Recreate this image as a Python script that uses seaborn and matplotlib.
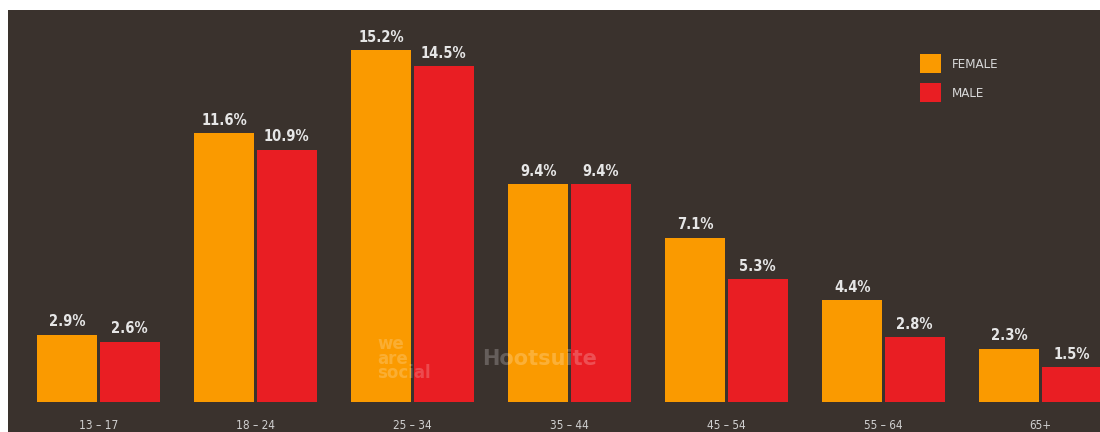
import matplotlib
matplotlib.use("Agg")
import matplotlib.pyplot as plt
from matplotlib.patches import Rectangle, Patch
from matplotlib import font_manager as fm
import seaborn as sns
import pandas as pd

age_groups = ["13 – 17", "18 – 24", "25 – 34", "35 – 44", "45 – 54", "55 – 64", "65+"]
female = [2.9, 11.6, 15.2, 9.4, 7.1, 4.4, 2.3]
male = [2.6, 10.9, 14.5, 9.4, 5.3, 2.8, 1.5]
series = ["FEMALE", "MALE"]
colors = ["#FA9A00", "#E91E23"]
bg = "#3A322D"
txt = "#E6E6E6"

df = pd.DataFrame({
    "age": age_groups * 2,
    "sex": [series[0]] * len(age_groups) + [series[1]] * len(age_groups),
    "value": female + male,
})

sns.set_theme(style="white")
plt.rcParams["font.family"] = ["DejaVu Sans"]

names = {f.name for f in fm.fontManager.ttflist}
narrow = "Liberation Sans Narrow" if "Liberation Sans Narrow" in names else "DejaVu Sans"
cond_fp = fm.FontProperties(family=narrow, weight="bold", stretch="condensed", size=10.5)
reg_fp = fm.FontProperties(family=narrow, stretch="condensed", size=8.5)

W, H = 1100, 432
fig = plt.figure(figsize=(W / 100, H / 100), dpi=100, facecolor=bg)
fig.patches.append(Rectangle((0, 1 - 10 / H), 1, 10 / H, transform=fig.transFigure,
                             facecolor="white", edgecolor="none", zorder=10))
fig.patches.append(Rectangle((0, 0), 8 / W, 1, transform=fig.transFigure,
                             facecolor="white", edgecolor="none", zorder=10))

ax = fig.add_axes([8 / W, 30 / H, 1092 / W, 392 / H])
ax.set_facecolor(bg)
ax.patch.set_alpha(0)

sns.barplot(data=df, x="age", y="value", hue="sex", hue_order=series,
            palette=colors, width=0.796, gap=0.04, saturation=1,
            edgecolor="none", ax=ax, legend=False)

ax.set_xlim(-0.576, 6.379)
ax.set_ylim(0, 16.93)
for s in ax.spines.values():
    s.set_visible(False)
ax.set_yticks([])
ax.set_xlabel("")
ax.set_ylabel("")
ax.tick_params(axis="x", length=0, pad=12.5, labelcolor="#D0D0D0")
for lab in ax.get_xticklabels():
    lab.set_fontproperties(reg_fp)

for cont in ax.containers:
    ax.bar_label(cont, labels=[f"{v:.1f}%" for v in cont.datavalues], padding=4,
                 color=txt, fontproperties=cond_fp, clip_on=False)

handles = [Patch(facecolor=c, edgecolor="none") for c in colors]
leg = fig.legend(handles, series, loc="upper left", bbox_to_anchor=(920 / W, 1 - 54 / H),
                 frameon=False, prop=fm.FontProperties(family=narrow, stretch="condensed", size=9.5),
                 handlelength=1.6, handleheight=1.8,
                 labelspacing=0.8, handletextpad=0.8, borderpad=0, borderaxespad=0)
for t in leg.get_texts():
    t.set_color("#D8D8D8")

# faint watermark
fig.text(377 / W, 50 / H, "we\nare\nsocial", color="white",
         alpha=0.2, fontsize=12, fontweight="bold", linespacing=0.75, family="DejaVu Sans",
         va="bottom", ha="left")
fig.text(482 / W, 63 / H, "Hootsuite", color="white",
         alpha=0.22, fontsize=15, fontweight="bold", family="DejaVu Sans",
         va="bottom", ha="left")

fig.savefig("out.png", dpi=100, facecolor=bg)
